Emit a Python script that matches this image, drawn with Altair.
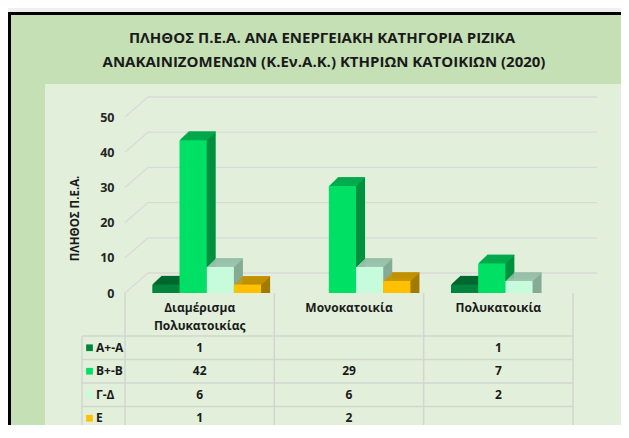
import altair as alt
import pandas as pd

# ---------------- data ----------------
categories = ["Διαμέρισμα Πολυκατοικίας", "Μονοκατοικία", "Πολυκατοικία"]
series = ["Α+-Α", "Β+-Β", "Γ-Δ", "Ε"]
vals_A = [1, None, 1]
vals_B = [42, 29, 7]
vals_G = [6, 6, 2]
vals_E = [1, 2, None]
y_ticks = [0, 10, 20, 30, 40, 50]
title_line1 = "ΠΛΗΘΟΣ Π.Ε.Α. ΑΝΑ ΕΝΕΡΓΕΙΑΚΗ ΚΑΤΗΓΟΡΙΑ ΡΙΖΙΚΑ"
title_line2 = "ΑΝΑΚΑΙΝΙΖΟΜΕΝΩΝ (Κ.Εν.Α.Κ.) ΚΤΗΡΙΩΝ ΚΑΤΟΙΚΙΩΝ (2020)"
y_title = "ΠΛΗΘΟΣ Π.Ε.Α."

# ---------------- styles ----------------
front_colors = ["#00843d", "#00e064", "#c6fcdc", "#ffc000"]
top_colors = ["#006b31", "#00b04f", "#9dc6ae", "#c89700"]
side_colors = ["#005a28", "#00913f", "#85aa96", "#a37a00"]
FONT = "Open Sans, sans-serif"
GRID = "#d9d9d9"
TLINE = "#d2d6cf"
TXT = "#1a1a1a"

rows = []
for s, vals in zip(series, [vals_A, vals_B, vals_G, vals_E]):
    for c, v in zip(categories, vals):
        if v is not None:
            rows.append({"cat": c, "series": s, "v": v})
df = pd.DataFrame(rows)
sdf = pd.DataFrame({"series": series})
cdf = pd.DataFrame({"cat": categories})
gdf = pd.DataFrame({"t": y_ticks})
one = pd.DataFrame({"a": [0]})

W, H = 448, 176
T_TOP, T_BOT = 219, 313
xscale = alt.Scale(type="band", domain=categories, paddingInner=0, paddingOuter=0)
yscale = alt.Scale(domain=[0, 50], nice=False, zero=True)
tscale = alt.Scale(type="band", domain=series, range=[T_TOP, T_BOT], paddingInner=0, paddingOuter=0)

xaxis = alt.Axis(orient="bottom", title=None, domain=False, ticks=False, grid=False,
                 labelExpr="split(datum.label, ' ')", labelFont=FONT, labelFontSize=12,
                 labelFontWeight="bold", labelColor=TXT, labelPadding=9, labelBaseline="top",
                 labelLineHeight=18, labelAngle=0, labelLimit=0, zindex=2)
yaxis = alt.Axis(values=y_ticks, title=y_title, grid=False, ticks=False, domain=False,
                 labelFont=FONT, labelFontSize=12.5, labelFontWeight="bold", labelColor="#262626",
                 labelPadding=11, titleFont=FONT, titleFontSize=11.5, titleFontWeight="bold",
                 titleColor=TXT, titleX=-50, titleY=101, titleAngle=270, titleAlign="center",
                 titleBaseline="middle", zindex=2)


def X(**kw):
    return alt.X("cat:N", scale=xscale, axis=xaxis, **kw)


def cscale(rng):
    return alt.Color("series:N", scale=alt.Scale(domain=series, range=rng), legend=None)


# ---------------- frame ----------------
def rect(x, x2, y, y2, color):
    return alt.Chart(one).mark_rect(color=color).encode(
        x=alt.value(x), x2=alt.value(x2), y=alt.value(y), y2=alt.value(y2))


frame = [
    rect(-114, 500, -102, 320, "#c5e0b4"),   # outer green area
    rect(-117, -114, -105, 320, "#000000"),  # left border
    rect(-117, 500, -105, -102, "#000000"),  # top border
    rect(-80, 496, -33, 316, "#e2efda"),     # inner panel
]

titles = [
    alt.Chart(one).mark_text(text=title_line1, font=FONT, fontSize=15, fontWeight="bold",
                             color=TXT, baseline="middle").encode(x=alt.value(197), y=alt.value(-79)),
    alt.Chart(one).mark_text(text=title_line2, font=FONT, fontSize=15, fontWeight="bold",
                             color=TXT, baseline="middle").encode(x=alt.value(199), y=alt.value(-55)),
]

# ---------------- plot (3D-ish bars) ----------------
grid_diag = alt.Chart(gdf).mark_rule(color=GRID, strokeWidth=1.3, y2Offset=-20).encode(
    x=alt.value(0), x2=alt.value(23),
    y=alt.Y("t:Q", scale=yscale, axis=yaxis), y2=alt.Y2("t"))
grid_h = alt.Chart(gdf).mark_rule(color=GRID, strokeWidth=1.3, yOffset=-20).encode(
    x=alt.value(23), x2=alt.value(472),
    y=alt.Y("t:Q", scale=yscale, axis=yaxis))

BAR_START, BAR_SPAN = 27.3, 108.8   # offset of the group inside its category band
BY = -5
STEPS = 9
DY = 0.95


def bar_layer(colors, dx, yo, y2o, top=False):
    enc = dict(
        x=X(),
        xOffset=alt.XOffset("series:N", scale=alt.Scale(
            domain=series, range=[BAR_START + dx, BAR_START + BAR_SPAN + dx],
            paddingInner=0, paddingOuter=0)),
        y=alt.Y("v:Q", scale=yscale, axis=yaxis, stack=None),
        color=cscale(colors),
    )
    if top:
        enc["y2"] = alt.Y2("v")
    return alt.Chart(df).mark_bar(yOffset=yo, y2Offset=y2o, opacity=1).encode(**enc)


sides = [bar_layer(side_colors, i, BY - i * DY, BY - i * DY) for i in range(1, STEPS + 1)]
tops = [bar_layer(top_colors, i, BY - i * DY, BY - (i - 1) * DY, top=True)
        for i in range(1, STEPS + 1)]
fronts = [bar_layer(front_colors, 0, BY, BY)]

plot_group = alt.layer(grid_diag, grid_h, *sides, *tops, *fronts).resolve_scale(
    color="independent", xOffset="independent")

# ---------------- data table ----------------
t_values = alt.Chart(df).mark_text(font=FONT, fontSize=12, fontWeight="bold", color=TXT).encode(
    x=X(),
    y=alt.Y("series:N", scale=tscale, axis=None, bandPosition=0.5),
    text="v:Q")

t_squares = alt.Chart(sdf).mark_square(size=45, opacity=1).encode(
    x=alt.value(-35.5),
    y=alt.Y("series:N", scale=tscale, axis=None, bandPosition=0.5),
    color=cscale(front_colors))

t_labels = alt.Chart(sdf).mark_text(align="left", font=FONT, fontSize=12, fontWeight="bold",
                                    color=TXT).encode(
    x=alt.value(-29),
    y=alt.Y("series:N", scale=tscale, axis=None, bandPosition=0.5),
    text="series:N")

h_lines = alt.Chart(sdf).mark_rule(color=TLINE, strokeWidth=1.5).encode(
    x=alt.value(-43), x2=alt.value(448),
    y=alt.Y("series:N", scale=tscale, axis=None, bandPosition=0))
h_bottom = alt.Chart(sdf).transform_filter(alt.datum.series == series[-1]).mark_rule(
    color=TLINE, strokeWidth=1.5).encode(
    x=alt.value(-43), x2=alt.value(448),
    y=alt.Y("series:N", scale=tscale, axis=None, bandPosition=1))
v_lines = alt.Chart(cdf).mark_rule(color=TLINE, strokeWidth=1.5).encode(
    x=X(bandPosition=0),
    y=alt.value(H), y2=alt.value(T_BOT))
v_right = alt.Chart(cdf).transform_filter(alt.datum.cat == categories[-1]).mark_rule(
    color=TLINE, strokeWidth=1.5).encode(
    x=X(bandPosition=1),
    y=alt.value(H), y2=alt.value(T_BOT))
v_left = alt.Chart(one).mark_rule(color=TLINE, strokeWidth=1.5).encode(
    x=alt.value(-43), y=alt.value(T_TOP), y2=alt.value(T_BOT))

table_group = alt.layer(h_lines, h_bottom, v_lines, v_right, v_left,
                        t_squares, t_labels, t_values).resolve_scale(color="independent")

chart = alt.layer(*frame, *titles, plot_group, table_group).resolve_scale(
    y="independent", color="independent"
).properties(
    width=W, height=H,
    autosize=alt.AutoSizeParams(type="none"),
    padding={"left": 117, "top": 109, "right": 48, "bottom": 132},
    background="#efefef",
).configure_view(stroke=None)

chart.save("out.html", embed_options={"renderer": "svg", "actions": False})
